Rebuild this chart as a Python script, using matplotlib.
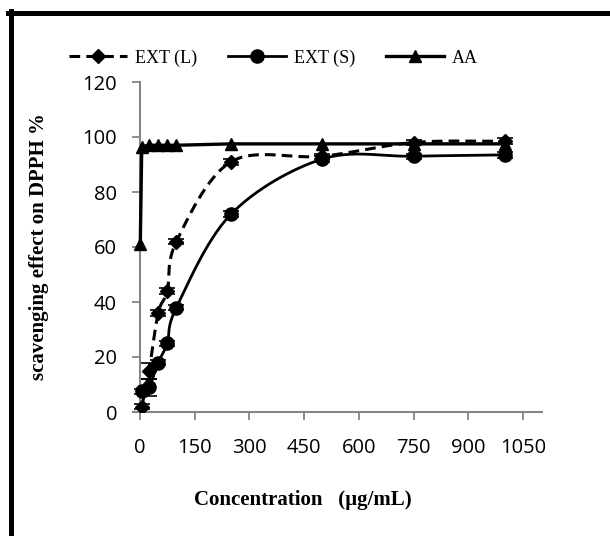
import numpy as np
import matplotlib
matplotlib.use('Agg')
import matplotlib.pyplot as plt
from matplotlib.lines import Line2D

# --- data ---
conc_ext = [5, 25, 50, 75, 100, 250, 500, 750, 1000]
ext_l = [2, 15, 36, 44, 62, 91, 93, 98, 98.5]
ext_l_err = [1, 3, 1, 1, 1, 1, 1, 1, 1]
ext_s = [7.5, 9, 18, 25, 38, 72, 92, 93, 93.5]
ext_s_err = [1, 3, 1, 1, 1, 1, 1, 1, 1]

conc_aa = [1, 5, 25, 50, 75, 100, 250, 500, 750, 1000]
aa = [61, 96.5, 97, 97, 97, 97, 97.5, 97.5, 97.5, 97.5]

x_ticks = [0, 150, 300, 450, 600, 750, 900, 1050]
y_ticks = [0, 20, 40, 60, 80, 100, 120]


def smooth(x, y, n=30):
    # Catmull-Rom curve through the points (like Excel's smoothed line)
    x = np.asarray(x, float)
    y = np.asarray(y, float)
    px = np.concatenate([[2 * x[0] - x[1]], x, [2 * x[-1] - x[-2]]])
    py = np.concatenate([[2 * y[0] - y[1]], y, [2 * y[-1] - y[-2]]])
    xs, ys = [], []
    t = np.linspace(0, 1, n)
    for i in range(1, len(px) - 2):
        for p, out in ((px, xs), (py, ys)):
            p0, p1, p2, p3 = p[i - 1], p[i], p[i + 1], p[i + 2]
            out.extend(0.5 * ((2 * p1) + (-p0 + p2) * t
                              + (2 * p0 - 5 * p1 + 4 * p2 - p3) * t ** 2
                              + (-p0 + 3 * p1 - 3 * p2 + p3) * t ** 3))
    return np.array(xs), np.array(ys)


fig = plt.figure(figsize=(6.1, 5.36), dpi=100)
# plot area: x from 133 px to 542 px, y from 82 px to 412 px
ax = fig.add_axes([133 / 610, 1 - 412 / 536, 409 / 610, 330 / 536])

grey = '#868686'

# EXT (L) dashed with diamonds
sx, sy = smooth(conc_ext, ext_l)
ax.plot(sx, sy, color='black', lw=2.2, ls=(0, (3.5, 2)), zorder=3)
ax.errorbar(conc_ext, ext_l, yerr=ext_l_err, fmt='D', color='black', ms=7,
            capsize=6, elinewidth=1.2, capthick=1.2, zorder=4)

# EXT (S) solid with circles
sx, sy = smooth(conc_ext, ext_s)
ax.plot(sx, sy, color='black', lw=2.0, zorder=3)
ax.errorbar(conc_ext, ext_s, yerr=ext_s_err, fmt='o', color='black', ms=9.5,
            capsize=6, elinewidth=1.2, capthick=1.2, zorder=4)

# AA solid with triangles
ax.plot(conc_aa, aa, color='black', lw=2.4, marker='^', ms=9, zorder=5)

ax.set_xlim(-19, 1102)
ax.set_ylim(0, 120)
ax.set_xticks(x_ticks)
ax.set_yticks(y_ticks)

for s in ['top', 'right']:
    ax.spines[s].set_visible(False)
ax.spines['left'].set_position(('data', 0))
ax.spines['left'].set_color(grey)
ax.spines['bottom'].set_color(grey)
ax.spines['left'].set_linewidth(1.5)
ax.spines['bottom'].set_linewidth(1.5)
ax.tick_params(axis='both', direction='out', length=5.5, width=1.3, color=grey,
               labelsize=14.5, labelcolor='black')
ax.tick_params(axis='x', pad=13)
ax.tick_params(axis='y', pad=11)
for lab in ax.get_xticklabels() + ax.get_yticklabels():
    lab.set_family('Open Sans')

ax.set_xlabel('Concentration   (µg/mL)', family='Liberation Serif',
              fontweight='bold', fontsize=15)
ax.xaxis.set_label_coords((303 - 133) / 409, (412 - 500) / 330)
ax.set_ylabel('scavenging effect on DPPH %', family='Liberation Serif',
              fontweight='bold', fontsize=15)
ax.yaxis.set_label_coords((39 - 133) / 409, (412 - 247) / 330)
ax.xaxis.label.set_va('center')
ax.yaxis.label.set_va('center')

handles = [
    Line2D([], [], color='black', lw=2.2, ls=(0, (3.5, 2)), marker='D', ms=7),
    Line2D([], [], color='black', lw=2.0, marker='o', ms=9.5),
    Line2D([], [], color='black', lw=2.4, marker='^', ms=8.5),
]
fig.legend(handles, ['EXT (L)', 'EXT (S)', 'AA'], loc='center',
           bbox_to_anchor=(273.5 / 610, 1 - 58 / 536), ncol=3, frameon=False,
           handlelength=3.2, columnspacing=1.7, handletextpad=0.45,
           prop={'family': 'Liberation Serif', 'size': 13})

# black frame, only top and left edges visible
fig.add_artist(Line2D([8 / 610, 1], [1 - 13 / 536, 1 - 13 / 536], color='black',
                      lw=3.6, transform=fig.transFigure))
fig.add_artist(Line2D([10.5 / 610, 10.5 / 610], [0, 1 - 11 / 536], color='black',
                      lw=3.6, transform=fig.transFigure))

fig.savefig('out.png', dpi=100)
